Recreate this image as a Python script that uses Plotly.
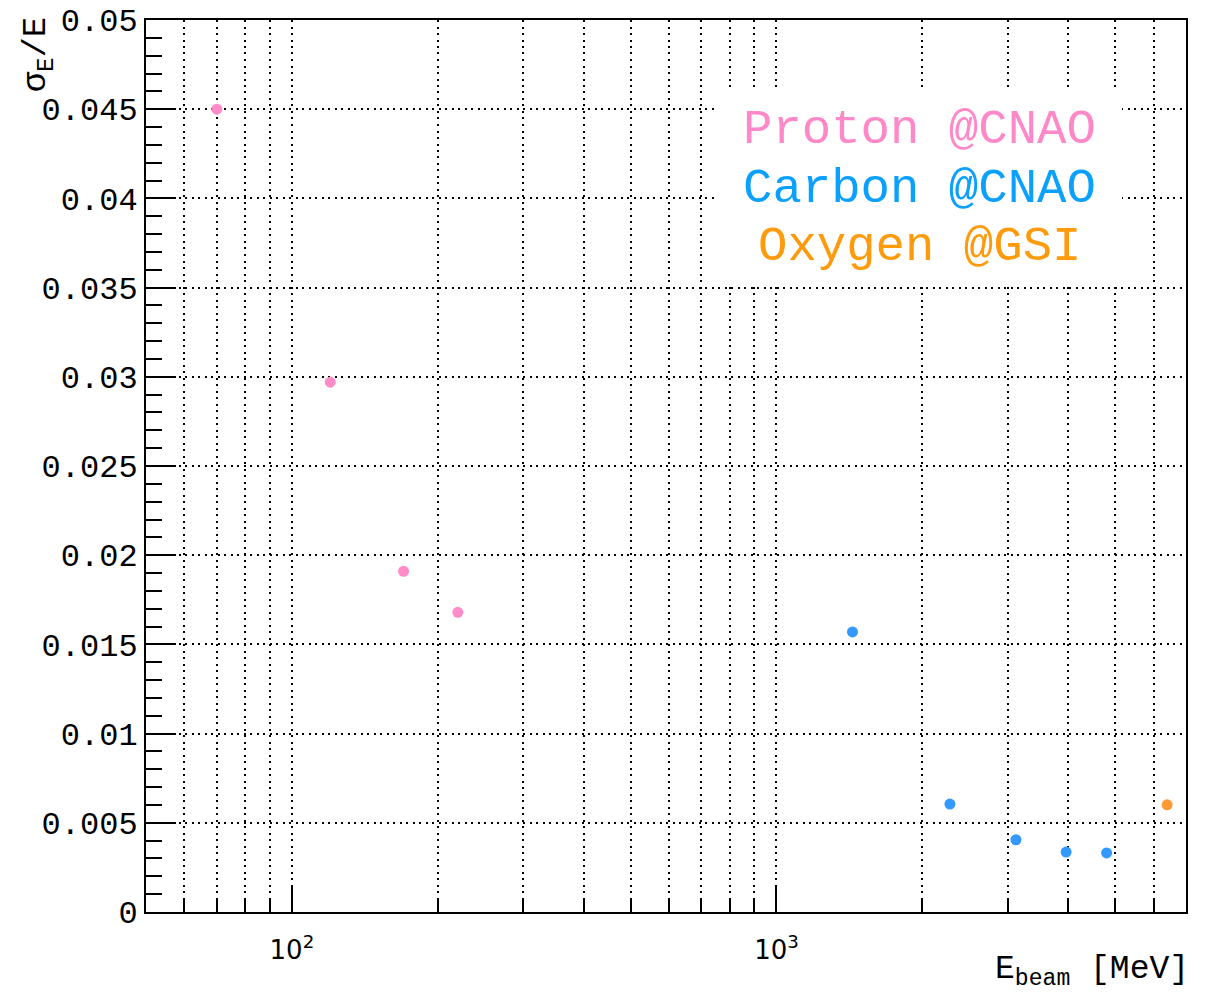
import plotly.graph_objects as go
import math

# Data
proton_E = [70, 120, 170, 220]
proton_res = [0.0450, 0.0297, 0.0191, 0.0168]
carbon_E = [1435, 2280, 3120, 3960, 4800]
carbon_res = [0.0157, 0.00605, 0.00405, 0.00336, 0.00331]
oxygen_E = [6400]
oxygen_res = [0.00601]

x_major = [100, 1000]
x_major_text = ["10<sup>2</sup>", "10<sup>3</sup>"]
x_minor = [60, 70, 80, 90, 200, 300, 400, 500, 600, 700, 800, 900,
           2000, 3000, 4000, 5000, 6000]

legend_lines = [("Proton @CNAO", "#ff88c8"),
                ("Carbon @CNAO", "#0aa0ff"),
                ("Oxygen @GSI", "#ff9a0a")]

mono = "Liberation Mono, Courier New, monospace"

fig = go.Figure()
fig.add_trace(go.Scatter(x=proton_E, y=proton_res, mode="markers",
                         marker=dict(color="#ff8cc8", size=11), name="Proton"))
fig.add_trace(go.Scatter(x=carbon_E, y=carbon_res, mode="markers",
                         marker=dict(color="#3399ff", size=11), name="Carbon"))
fig.add_trace(go.Scatter(x=oxygen_E, y=oxygen_res, mode="markers",
                         marker=dict(color="#ff9933", size=11), name="Oxygen"))

grid_dash = "2px,4.5px"

fig.update_layout(
    width=1217, height=996,
    margin=dict(l=146, r=31, t=20, b=84),
    paper_bgcolor="white", plot_bgcolor="white",
    showlegend=False,
    font=dict(family=mono, color="black"),
)

fig.update_xaxes(
    type="log", range=[math.log10(50), math.log10(7000)],
    automargin=False,
    tickmode="array", tickvals=x_major, ticktext=x_major_text,
    ticks="inside", ticklen=26, tickwidth=1.5, tickcolor="black",
    tickfont=dict(family="DejaVu Sans, sans-serif", size=26, color="black"),
    ticklabelstandoff=14,
    showline=True, linecolor="black", linewidth=2, mirror=True,
    showgrid=True, gridcolor="black", gridwidth=1.6, griddash=grid_dash,
    zeroline=False,
    minor=dict(tickmode="array", tickvals=x_minor, ticks="inside", ticklen=12,
               tickwidth=1.5, tickcolor="black",
               showgrid=True, gridcolor="black", gridwidth=1.6, griddash=grid_dash),
)

fig.update_yaxes(
    range=[0, 0.05], tick0=0, dtick=0.005,
    automargin=False,
    ticks="inside", ticklen=30, tickwidth=1.5, tickcolor="black",
    tickfont=dict(family=mono, size=32, color="black"),
    showline=True, linecolor="black", linewidth=2, mirror=True,
    showgrid=True, gridcolor="black", gridwidth=1.6, griddash=grid_dash,
    zeroline=False,
    minor=dict(dtick=0.001, ticks="inside", ticklen=16, tickwidth=1.5,
               tickcolor="black", showgrid=False),
)

# white box behind the text legend
fig.add_shape(type="rect", xref="paper", yref="paper",
              x0=0.55, x1=0.9385, y0=0.7007, y1=0.9238,
              fillcolor="white", line=dict(width=0), layer="above")

legend_y = [0.8772, 0.8110, 0.7460]
for (txt, col), yy in zip(legend_lines, legend_y):
    fig.add_annotation(xref="paper", yref="paper", x=0.744, y=yy,
                       text=txt, showarrow=False, xanchor="center", yanchor="middle",
                       font=dict(family=mono, size=49, color=col))

# axis titles
fig.add_annotation(xref="paper", yref="paper", x=-0.1035, y=0.962,
                   text="σ<sub>E</sub>/E", textangle=-90, showarrow=False,
                   xanchor="center", yanchor="middle",
                   font=dict(family=mono, size=34, color="black"))
fig.add_annotation(xref="paper", yref="paper", x=1.005, y=-0.067,
                   text="E<sub>beam</sub> [MeV]", showarrow=False,
                   xanchor="right", yanchor="middle",
                   font=dict(family=mono, size=33, color="black"))

fig.write_html("out.html")
